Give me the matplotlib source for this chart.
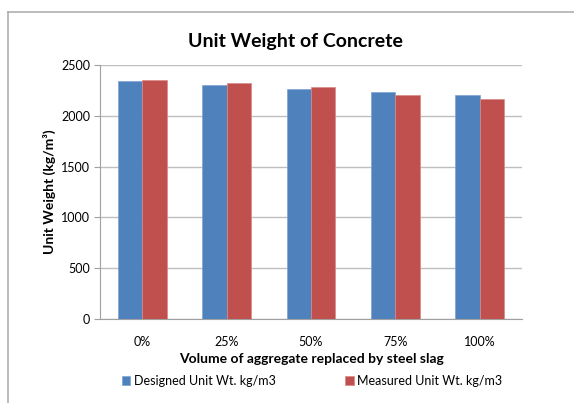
import matplotlib
matplotlib.use("Agg")
import matplotlib.pyplot as plt
from matplotlib.lines import Line2D
import numpy as np

plt.rcParams['font.family'] = ['Lato', 'DejaVu Sans']

categories = ["0%", "25%", "50%", "75%", "100%"]
designed = [2343, 2301, 2266, 2232, 2203]
measured = [2353, 2320, 2288, 2203, 2170]
series_names = ["Designed Unit Wt. kg/m3", "Measured Unit Wt. kg/m3"]
yticks = [0, 500, 1000, 1500, 2000, 2500]

W, H = 574, 403
fig = plt.figure(figsize=(W / 100, H / 100), dpi=100)

# chart-area frame (top and left edges)
fig.add_artist(Line2D([8 / W, 8 / W], [0, 1 - 12 / H], color="#B0B0B0", lw=1.2))
fig.add_artist(Line2D([8 / W, 1], [1 - 12 / H, 1 - 12 / H], color="#B0B0B0", lw=1.2))

ax = fig.add_axes([100 / W, 1 - 319 / H, 422 / W, 254 / H])

x = np.arange(len(categories))
bw = 0.288
ax.bar(x - bw / 2, designed, bw, color="#4F81BD", edgecolor="#7FA3D0", lw=0.5,
       label=series_names[0], zorder=3)
ax.bar(x + bw / 2, measured, bw, color="#C0504D", edgecolor="#D88A88", lw=0.5,
       label=series_names[1], zorder=3)

ax.set_xlim(-0.5, len(categories) - 0.5)
ax.set_ylim(0, 2500)
ax.set_yticks(yticks)
ax.set_xticks(x)
ax.set_xticklabels(categories)
ax.yaxis.grid(True, color="#BFBFBF", lw=1, zorder=0)
for s in ["top", "right"]:
    ax.spines[s].set_visible(False)
for s in ["left", "bottom"]:
    ax.spines[s].set_color("#A0A0A0")
ax.tick_params(axis="y", length=4, color="#A0A0A0", labelsize=9, pad=3)
ax.tick_params(axis="x", length=0, labelsize=9, pad=12)

ax.set_ylabel("Unit Weight (kg/m³)", fontsize=10, fontweight="bold", labelpad=4)
ax.set_xlabel("Volume of aggregate replaced by steel slag", fontsize=10,
              fontweight="bold", labelpad=4)

fig.text(295 / W, 1 - 42 / H, "Unit Weight of Concrete", ha="center", va="center",
         fontsize=14, fontweight="bold")

fig.legend(loc="center", bbox_to_anchor=(312 / W, 1 - 381 / H), ncol=2,
           frameon=False, fontsize=9, handlelength=0.7, handleheight=0.7,
           handletextpad=0.3, columnspacing=5.5)

fig.savefig("out.png", dpi=100)
